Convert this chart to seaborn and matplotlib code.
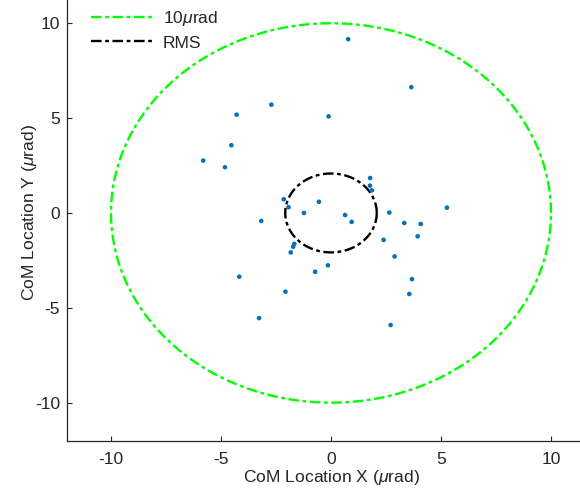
import numpy as np
import pandas as pd
import matplotlib
matplotlib.use("Agg")
import matplotlib.pyplot as plt
import seaborn as sns

# ---- data ----
x_vals = [0.78, 3.65, -2.71, -4.29, -0.11, -4.53, -5.81, -4.82, 1.78, 1.77, 1.86,
          -2.15, -1.93, -0.55, -1.23, 0.64, 0.94, 2.65, 3.33, 4.08, 3.94, 2.39,
          -3.17, -1.67, -1.72, -1.83, 2.89, -0.14, -0.72, -4.17, 3.68, 3.56,
          -2.07, -3.27, 2.71, 5.27]
y_vals = [9.16, 6.63, 5.71, 5.18, 5.09, 3.57, 2.76, 2.41, 1.84, 1.44, 1.19,
          0.72, 0.30, 0.59, 0.00, -0.11, -0.47, 0.02, -0.53, -0.58, -1.23, -1.42,
          -0.42, -1.63, -1.78, -2.08, -2.29, -2.76, -3.10, -3.36, -3.49, -4.27,
          -4.15, -5.54, -5.91, 0.28]
circle_labels = ["10$\\mu$rad", "RMS"]
circle_radii = [10.0, 2.08]
tick_values = [-10, -5, 0, 5, 10]
x_label = "CoM Location X ($\\mu$rad)"
y_label = "CoM Location Y ($\\mu$rad)"

sns.set_style("white")
plt.rcParams["font.family"] = ["Liberation Sans", "DejaVu Sans"]
plt.rcParams["mathtext.fontset"] = "custom"
plt.rcParams["mathtext.it"] = "Liberation Sans:italic"
plt.rcParams["mathtext.rm"] = "Liberation Sans"

txt = "#262626"
fs = 12.6
fig = plt.figure(figsize=(5.8, 4.88), dpi=100)
ax = fig.add_axes([67 / 580, 47.4 / 488, 528 / 580, 455.3 / 488])

theta = np.linspace(0, 2 * np.pi, 721)
circ_colors = ["#00ff00", "#000000"]
for lab, r, c in zip(circle_labels, circle_radii, circ_colors):
    cdf = pd.DataFrame({"x": r * np.cos(theta), "y": r * np.sin(theta)})
    sns.lineplot(data=cdf, x="x", y="y", sort=False, estimator=None, ax=ax,
                 color=c, linewidth=1.7, label=lab,
                 linestyle=(0, (4.5, 1.5, 1.6, 1.5)))

pts = pd.DataFrame({"x": x_vals, "y": y_vals})
sns.scatterplot(data=pts, x="x", y="y", ax=ax, color="#0072BD", s=11,
                edgecolor="none", legend=False, zorder=3)

ax.set_xlim(-12, 12)
ax.set_ylim(-12, 12)
ax.set_xticks(tick_values)
ax.set_yticks(tick_values)
ax.set_xticklabels([str(t) for t in tick_values])
ax.set_yticklabels([str(t) for t in tick_values])
ax.tick_params(bottom=True, left=True, top=False, right=False,
               direction="in", length=3.6, width=0.8, colors=txt,
               labelsize=fs, labelcolor=txt)
ax.tick_params(axis="x", pad=8)
ax.tick_params(axis="y", pad=5)
for s in ["top", "right"]:
    ax.spines[s].set_visible(False)
for s in ["left", "bottom"]:
    ax.spines[s].set_color(txt)
    ax.spines[s].set_linewidth(0.9)

ax.set_xlabel(x_label, fontsize=fs, color=txt, labelpad=1)
ax.set_ylabel(y_label, fontsize=fs, color=txt, labelpad=-3)

leg = ax.legend(loc="upper left", bbox_to_anchor=(91 / 580, 1 - 9 / 488),
                bbox_transform=fig.transFigure, frameon=False, fontsize=fs,
                handlelength=3.5, handletextpad=0.6, labelspacing=0.42,
                borderpad=0, borderaxespad=0)
for t in leg.get_texts():
    t.set_color(txt)

fig.savefig("out.png", dpi=100)
